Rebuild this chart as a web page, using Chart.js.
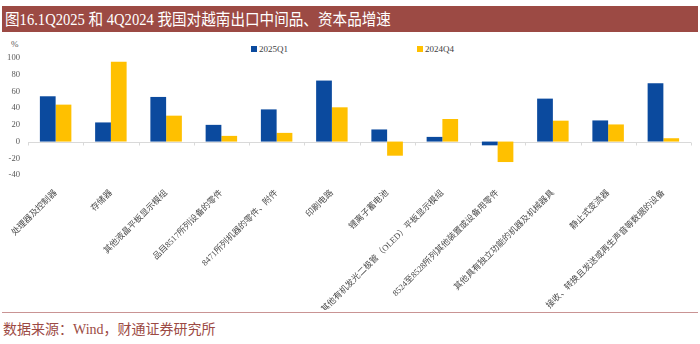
<!DOCTYPE html>
<html>
<head>
<meta charset="utf-8">
<script src="https://cdn.jsdelivr.net/npm/chart.js@4"></script>
<style>
  body { margin: 0; width: 700px; height: 344px; background: #fff; position: relative; overflow: hidden;
         font-family: "Liberation Serif", "Noto Sans CJK SC", serif; }
  #title { position: absolute; left: 2px; top: 6px; width: 696px; height: 26px; background: #9C4A44;
           color: #fff; font-size: 14.6px; line-height: 26px; padding-left: 3px; box-sizing: border-box; white-space: nowrap; }
  #title span { display: inline-block; transform: scaleY(1.12); }
  #box { position: absolute; left: 0; top: 38px; width: 700px; height: 272px; }
  #legend { position: absolute; top: 44px; left: 0; width: 700px; height: 14px; font-size: 9px; color: #404040; }
  #legend span { position: absolute; white-space: nowrap; }
  #legend i { display: inline-block; width: 6px; height: 6px; margin-right: 2px; vertical-align: 0px; }
  #pct { position: absolute; left: 11px; top: 39px; font-size: 9px; color: #595959; }
  #rule { position: absolute; left: 2px; top: 312px; width: 696px; height: 1px; background: #C99494; }
  #src { position: absolute; left: 3px; top: 318px; font-size: 14px; color: #9C4A44; white-space: nowrap; }
</style>
</head>
<body>
<div id="title"><span>图16.1Q2025 和 4Q2024 我国对越南出口中间品、资本品增速</span></div>
<div id="pct">%</div>
<div id="legend">
  <span style="left:251px"><i style="background:#0B4A9E"></i>2025Q1</span>
  <span style="left:417px"><i style="background:#FFC000"></i>2024Q4</span>
</div>
<div id="box"><canvas id="myChart"></canvas></div>
<div id="rule"></div>
<div id="src">数据来源：Wind，财通证券研究所</div>
<script>
// 产品类别
var goods = [
  '处理器及控制器',
  '存储器',
  '其他液晶平板显示模组',
  '品目8517所列设备的零件',
  '8471所列机器的零件、附件',
  '印刷电路',
  '锂离子蓄电池',
  '其他有机发光二极管（OLED）平板显示模组',
  '8524至8528所列其他装置或设备用零件',
  '其他具有独立功能的机器及机械器具',
  '静止式变流器',
  '接收、转换且发送或再生声音等数据的设备'
];
// 同比增速 %
var q1_2025 = [54.2, 22.9, 53.4, 20.0, 38.5, 73.0, 14.5, 5.6, -4.5, 51.4, 25.3, 69.9];
var q4_2024 = [44.2, 95.6, 31.0, 6.8, 10.4, 41.0, -16.9, 27.0, -24.5, 25.0, 20.5, 4.0];
var yTicks = [-40, -20, 0, 20, 40, 60, 80, 100];

var labelFont = { family: '"Liberation Serif", "Noto Sans CJK SC"', size: 8.6 };

// 零轴线 + 分类刻度
var zeroAxis = {
  id: 'zeroAxis',
  beforeDatasetsDraw: function(chart) {
    var ctx = chart.ctx, x = chart.scales.x, y = chart.scales.y;
    var y0 = Math.round(y.getPixelForValue(0)) + 0.5;
    ctx.save();
    ctx.strokeStyle = '#D9D9D9';
    ctx.lineWidth = 1;
    ctx.beginPath();
    ctx.moveTo(chart.chartArea.left, y0);
    ctx.lineTo(chart.chartArea.right, y0);
    for (var i = 0; i <= goods.length; i++) {
      var px = Math.round(x.getPixelForValue(i - 0.5)) + 0.5;
      ctx.moveTo(px, y0);
      ctx.lineTo(px, y0 + 3);
    }
    ctx.stroke();
    ctx.restore();
  }
};

var myChart = new Chart(document.getElementById('myChart'), {
  type: 'bar',
  data: {
    labels: goods,
    datasets: [
      { label: '2025Q1', data: q1_2025, backgroundColor: '#0B4A9E', categoryPercentage: 0.57, barPercentage: 1.0 },
      { label: '2024Q4', data: q4_2024, backgroundColor: '#FFC000', categoryPercentage: 0.57, barPercentage: 1.0 }
    ]
  },
  options: {
    responsive: true,
    maintainAspectRatio: false,
    animation: false,
    layout: { padding: { top: 20, right: 9, left: 0, bottom: 0 } },
    plugins: { legend: { display: false }, tooltip: { enabled: false } },
    scales: {
      x: {
        afterFit: function(s) { s.height = 135; },
        grid: { display: false },
        border: { display: false },
        ticks: { autoSkip: false, minRotation: 45, maxRotation: 45, color: '#4D4D4D', font: labelFont, padding: 5 }
      },
      y: {
        min: -40, max: 100,
        afterBuildTicks: function(s) { s.ticks = yTicks.map(function(v) { return { value: v }; }); },
        afterFit: function(s) { s.width = 28; },
        grid: { display: false, drawTicks: false },
        border: { display: false },
        ticks: { color: '#595959', font: labelFont, padding: 8 }
      }
    }
  },
  plugins: [zeroAxis]
});
</script>
</body>
</html>
